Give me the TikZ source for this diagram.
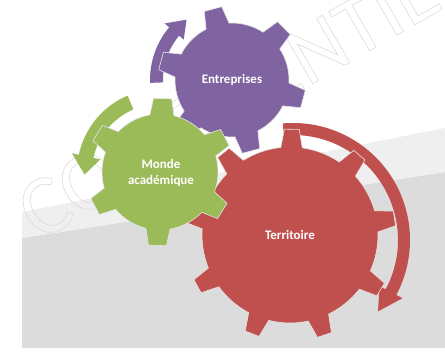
\documentclass[tikz,border=0pt]{standalone}
\usepackage{fontspec}
\setmainfont{Carlito}
\definecolor{gearRed}{HTML}{C0504D}
\definecolor{gearPurple}{HTML}{8064A2}
\definecolor{gearGreen}{HTML}{9BBB59}
\definecolor{bgGrey}{HTML}{DCDCDC}
\definecolor{bgLight}{HTML}{EFEFEF}
\tikzset{
  gear/.style={draw=white!90!black, line width=0.6pt},
  gearlabel/.style={text=white, font=\fontsize{13}{16}\selectfont\bfseries, align=center},
}
\newcommand{\outlined}[1]{\special{pdf:literal direct 1 Tr 0.6 w 0.86 G}#1\special{pdf:literal direct 0 Tr}}
\begin{document}
\begin{tikzpicture}[x=1pt,y=1pt]
    \useasboundingbox (0,0) rectangle (445,360);
    % background
    \fill [bgGrey] (22,12) -- (445,12) -- (445,188) -- (22,122) -- cycle;
    \fill [bgLight] (22,122) -- (445,188) -- (445,232) -- (22,148) -- cycle;
    \node [rotate=30, font=\fontsize{85}{85}\selectfont] (wm) at (244,268) {\outlined{CONFIDENTIEL}};
    % Territoire
    \begin{scope}[shift={(293,120)}]
        \fill [gearRed] (95:105) -- (95:117) arc[start angle=95, end angle=-28, radius=117]
            -- (-28:124) -- (-40:111) -- (-28:98) -- (-28:105)
            arc[start angle=-28, end angle=95, radius=105] -- cycle;
    \end{scope}
    \begin{scope}[shift={(290,125)}]
        \filldraw [gear, fill=gearRed] (2:88)
            \foreach \a in {9,49,...,329} {
                -- (\a-7:88) -- (\a-4:106) -- (\a+4:106) -- (\a+7:88)
                arc[start angle=\a+7, end angle=\a+33, radius=88]
            } -- cycle;
    \end{scope}
    \node [gearlabel] (terr) at (290,125) {Territoire};
    % Entreprises
    \begin{scope}[shift={(232,280)}]
        \fill [gearPurple] (182:69) -- (182:82) arc[start angle=182, end angle=140, radius=82]
            -- (140:88) -- (127:75.5) -- (140:63) -- (140:69)
            arc[start angle=140, end angle=182, radius=69] -- cycle;
        \filldraw [gear, fill=gearPurple] (33:57)
            \foreach \a in {45,105,...,345} {
                -- (\a-12:57) -- (\a-7:74) -- (\a+7:74) -- (\a+12:57)
                arc[start angle=\a+12, end angle=\a+48, radius=57]
            } -- cycle;
    \end{scope}
    \node [gearlabel] (entr) at (232,280) {Entreprises};
    % Monde academique
    \begin{scope}[shift={(160,188)}]
        \fill [gearGreen] (113:68) -- (113:83) arc[start angle=113, end angle=168, radius=83]
            -- (168:90) -- (182:75.5) -- (168:61) -- (168:68)
            arc[start angle=168, end angle=113, radius=68] -- cycle;
        \filldraw [gear, fill=gearGreen] (16:58)
            \foreach \a in {28,88,...,328} {
                -- (\a-12:58) -- (\a-7:74) -- (\a+7:74) -- (\a+12:58)
                arc[start angle=\a+12, end angle=\a+48, radius=58]
            } -- cycle;
    \end{scope}
    \node [gearlabel] (monde) at (161,187) {Monde\\académique};
\end{tikzpicture}
\end{document}
